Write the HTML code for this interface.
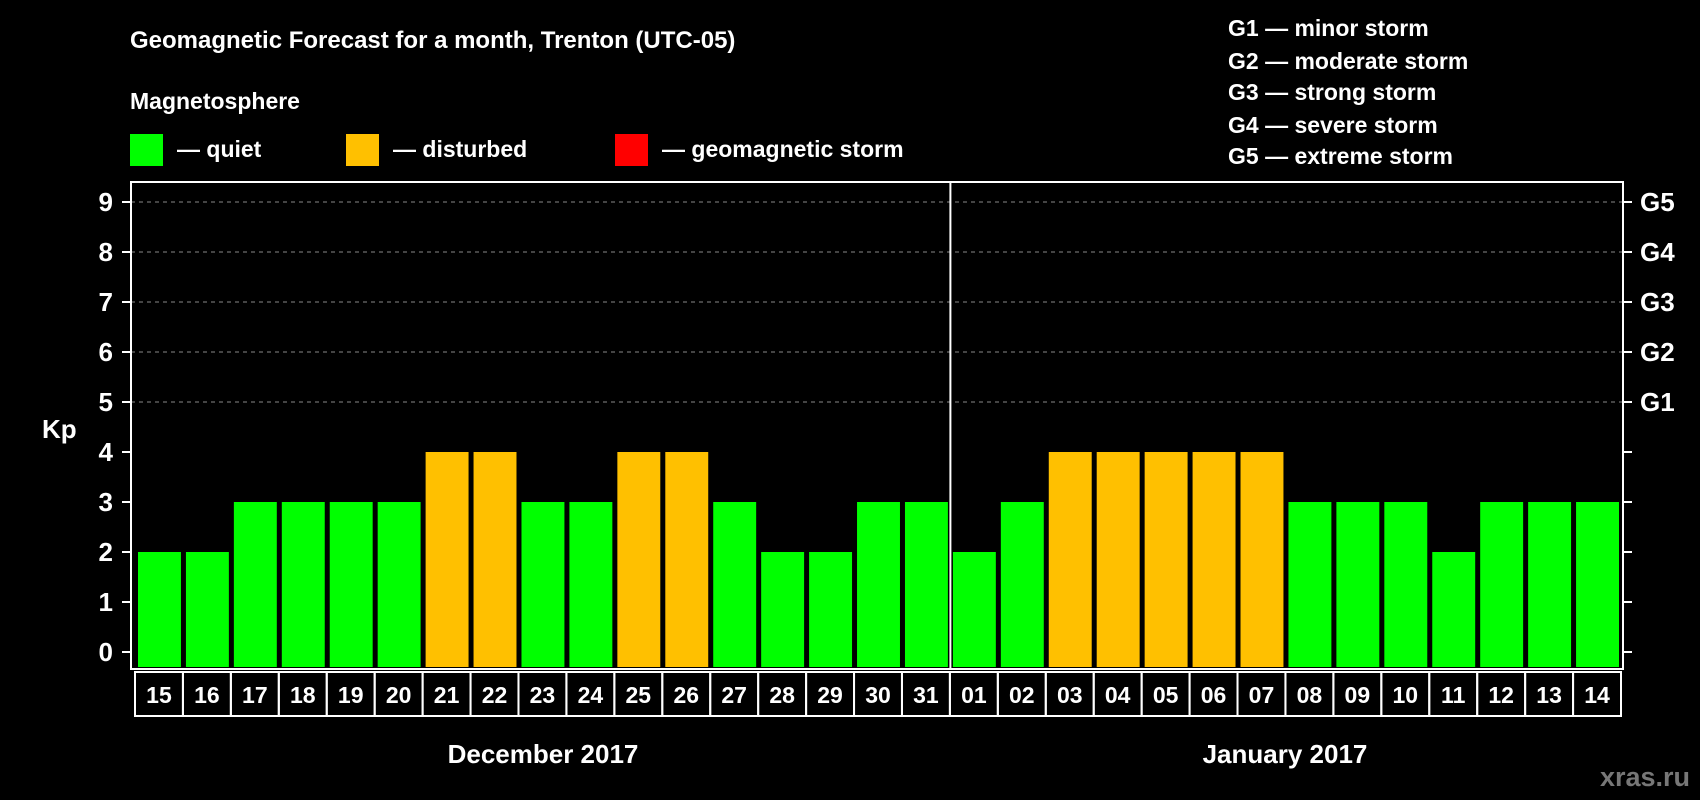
<!DOCTYPE html>
<html><head><meta charset="utf-8"><style>
html,body{margin:0;padding:0;background:#000;width:1700px;height:800px;overflow:hidden}
svg{display:block;font-family:"Liberation Sans",sans-serif;font-weight:bold}
</style></head><body>
<svg id="c" width="1700" height="800">
<text x="130" y="48" fill="#fff" font-size="24">Geomagnetic Forecast for a month, Trenton (UTC-05)</text>
<text x="130" y="109" fill="#fff" font-size="23">Magnetosphere</text>
<rect x="130" y="134" width="33" height="32" fill="#00ff00"/>
<text x="177" y="157" fill="#fff" font-size="23">— quiet</text>
<rect x="346" y="134" width="33" height="32" fill="#ffc000"/>
<text x="393" y="157" fill="#fff" font-size="23">— disturbed</text>
<rect x="615" y="134" width="33" height="32" fill="#ff0000"/>
<text x="662" y="157" fill="#fff" font-size="23">— geomagnetic storm</text>
<g fill="#fff" font-size="23">
<text x="1228" y="36">G1 — minor storm</text>
<text x="1228" y="69">G2 — moderate storm</text>
<text x="1228" y="100">G3 — strong storm</text>
<text x="1228" y="133">G4 — severe storm</text>
<text x="1228" y="164">G5 — extreme storm</text>
</g>
<text x="42" y="438" fill="#fff" font-size="26">Kp</text>
<text x="543" y="763" fill="#fff" font-size="26" text-anchor="middle">December 2017</text>
<text x="1285" y="763" fill="#fff" font-size="26" text-anchor="middle">January 2017</text>
<text x="1690" y="786" fill="#777" font-size="27" text-anchor="end">xras.ru</text>
<g id="plot"></g>
</svg>
<script>
const days = ["15","16","17","18","19","20","21","22","23","24","25","26","27","28","29","30","31","01","02","03","04","05","06","07","08","09","10","11","12","13","14"];
const kp = [2,2,3,3,3,3,4,4,3,3,4,4,3,2,2,3,3,2,3,4,4,4,4,4,3,3,3,2,3,3,3];
const yTicks = [0,1,2,3,4,5,6,7,8,9];
const gLabels = ["G1","G2","G3","G4","G5"];
const L=131,R=1623,T=182,B=669,Y0=652,Y9=202;
const NS="http://www.w3.org/2000/svg";
const g=document.getElementById('plot');
function y(v){return Y0-(Y0-Y9)*v/9;}
const pitch=(R-L-6)/days.length;
function x(i){return L+6+i*pitch;}
function mk(t,a){const e=document.createElementNS(NS,t);for(const k in a)e.setAttribute(k,a[k]);g.appendChild(e);return e;}
yTicks.forEach(v=>{
  if(v>=5){const l=mk('line',{x1:L,x2:R,y1:y(v),y2:y(v),stroke:'#888','stroke-dasharray':'4,4','stroke-width':1});
  
  }
  const t1=mk('line',{x1:L-9,x2:L,y1:y(v),y2:y(v),stroke:'#fff','stroke-width':2});
  
  
  const t2=mk('line',{x1:R,x2:R+9,y1:y(v),y2:y(v),stroke:'#fff','stroke-width':2});
  
  
  const tx=mk('text',{x:L-18,y:y(v)+9,fill:'#fff','font-size':26,'text-anchor':'end'});tx.textContent=v;
  
  
});
gLabels.forEach((s,i)=>{
  const tx=mk('text',{x:R+17,y:y(5+i)+9,fill:'#fff','font-size':26});tx.textContent=s;
  
  
});
days.forEach((d,i)=>{
  const v=kp[i];const c=v>=5?'#ff0000':(v>=4?'#ffc000':'#00ff00');
  const r=mk('rect',{x:x(i)+1,y:y(v),width:pitch-5,height:B-2-y(v),fill:c});
  
  
  const bx=mk('rect',{x:x(i)-2,y:B+3,width:pitch,height:44,fill:'none',stroke:'#fff','stroke-width':2});
  
  
  const tx=mk('text',{x:x(i)-2+pitch/2,y:B+34,fill:'#fff','font-size':23,'text-anchor':'middle'});tx.textContent=d;
  
  
});
const f=mk('rect',{x:L,y:T,width:R-L,height:B-T,fill:'none',stroke:'#fff','stroke-width':2});


const sepI=days.indexOf("01");
const sx=x(sepI)-1.5;
const s=mk('line',{x1:sx,x2:sx,y1:T,y2:B,stroke:'#fff','stroke-width':2});


</script>
</body></html>
